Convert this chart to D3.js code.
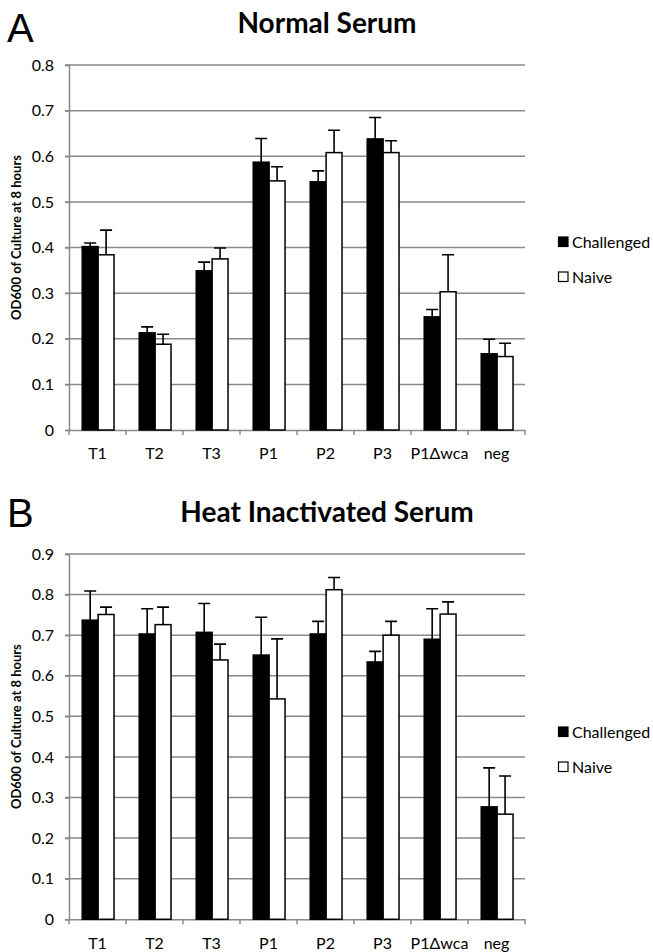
<!DOCTYPE html>
<html>
<head>
<meta charset="utf-8">
<script src="https://cdn.jsdelivr.net/npm/d3@7"></script>
<style>
  body { margin: 0; background: #fff; }
  svg { display: block; }
</style>
</head>
<body>
<div id="chart"></div>
<script>
// categories + series
const categories = ["T1", "T2", "T3", "P1", "P2", "P3", "P1\u0394wca", "neg"];
const seriesNames = ["Challenged", "Naive"];

// panel A - normal serum
const normalChallenged = [0.402, 0.213, 0.349, 0.587, 0.544, 0.638, 0.248, 0.167];
const normalChallengedErr = [0.008, 0.013, 0.019, 0.052, 0.024, 0.047, 0.016, 0.032];
const normalNaive = [0.384, 0.188, 0.375, 0.546, 0.608, 0.608, 0.303, 0.161];
const normalNaiveErr = [0.054, 0.022, 0.024, 0.031, 0.049, 0.026, 0.081, 0.029];
const normalTicks = [0, 0.1, 0.2, 0.3, 0.4, 0.5, 0.6, 0.7, 0.8];

// panel B - heat inactivated serum
const heatChallenged = [0.737, 0.703, 0.707, 0.651, 0.703, 0.634, 0.690, 0.277];
const heatChallengedErr = [0.072, 0.062, 0.071, 0.093, 0.031, 0.026, 0.075, 0.096];
const heatNaive = [0.751, 0.726, 0.639, 0.543, 0.812, 0.700, 0.752, 0.259];
const heatNaiveErr = [0.018, 0.043, 0.039, 0.148, 0.030, 0.034, 0.030, 0.094];
const heatTicks = [0, 0.1, 0.2, 0.3, 0.4, 0.5, 0.6, 0.7, 0.8, 0.9];

const W = 653, H = 952;
const gridColor = "#8a8a8a";
const font = "Lato, 'Open Sans', sans-serif";

const svg = d3.select("#chart").append("svg")
    .attr("width", W)
    .attr("height", H);

function drawPanel(opts) {
    const left = 69, right = 525;
    const top = opts.top, bottom = opts.bottom;
    const g = svg.append("g");

    // panel letter
    g.append("text")
        .attr("x", 7).attr("y", opts.letterY)
        .style("font-family", "'Liberation Sans', Arial, sans-serif")
        .style("font-size", "40px")
        .text(opts.letter);

    // title
    g.append("text")
        .attr("x", 327).attr("y", opts.titleY)
        .attr("text-anchor", "middle")
        .style("font-family", font)
        .style("font-weight", "bold")
        .style("font-size", "28px")
        .text(opts.title);

    const x0 = d3.scaleBand().domain(categories).range([left, right]);
    const x1 = d3.scaleBand().domain(seriesNames)
        .range([x0.bandwidth() * 0.232, x0.bandwidth() * 0.79]);
    const y = d3.scaleLinear().domain([0, opts.yMax]).range([bottom, top]);

    // gridlines (with small tick on the left)
    g.append("g").selectAll("line")
        .data(opts.ticks.slice(1))
        .join("line")
        .attr("x1", left - 4).attr("x2", right)
        .attr("y1", d => y(d)).attr("y2", d => y(d))
        .attr("stroke", gridColor).attr("stroke-width", 1.5);

    // y axis
    const yAxis = g.append("g")
        .attr("transform", "translate(" + left + ",0)")
        .call(d3.axisLeft(y).tickValues(opts.ticks).tickSize(4).tickPadding(11)
            .tickFormat(d => d === 0 ? "0" : d3.format(".1f")(d)));
    yAxis.select(".domain").attr("stroke", gridColor).attr("stroke-width", 1.5);
    yAxis.selectAll(".tick line").attr("stroke", gridColor).attr("stroke-width", 1.5);
    yAxis.selectAll("text")
        .style("font-family", font).style("font-size", "16px").attr("fill", "#000");

    // x axis - ticks at category boundaries
    const xAxis = g.append("g")
        .attr("transform", "translate(0," + bottom + ")")
        .call(d3.axisBottom(x0).tickSize(0).tickPadding(18));
    xAxis.select(".domain").attr("stroke", gridColor).attr("stroke-width", 1.5);
    xAxis.selectAll("text")
        .style("font-family", font).style("font-size", "16px").attr("fill", "#000");
    xAxis.selectAll("line.bound")
        .data(categories.concat(["end"]))
        .join("line")
        .attr("class", "bound")
        .attr("x1", (d, i) => left + i * x0.step())
        .attr("x2", (d, i) => left + i * x0.step())
        .attr("y1", 0).attr("y2", 5)
        .attr("stroke", gridColor).attr("stroke-width", 1.5);

    // bars
    const rows = [];
    categories.forEach((c, i) => {
        rows.push({ cat: c, s: "Challenged", v: opts.challenged[i], e: opts.challengedErr[i] });
        rows.push({ cat: c, s: "Naive", v: opts.naive[i], e: opts.naiveErr[i] });
    });

    const bars = g.append("g");
    // error bars (upper only)
    bars.selectAll("path.err")
        .data(rows)
        .join("path")
        .attr("class", "err")
        .attr("d", d => {
            const cx = x0(d.cat) + x1(d.s) + x1.bandwidth() / 2;
            const yt = y(d.v + d.e);
            return "M" + cx + "," + y(d.v) + "V" + yt + "M" + (cx - 6) + "," + yt + "H" + (cx + 6);
        })
        .attr("fill", "none").attr("stroke", "#000").attr("stroke-width", 1.6);

    bars.selectAll("rect")
        .data(rows)
        .join("rect")
        .attr("x", d => x0(d.cat) + x1(d.s))
        .attr("y", d => y(d.v))
        .attr("width", x1.bandwidth())
        .attr("height", d => bottom - y(d.v))
        .attr("fill", d => d.s === "Challenged" ? "#000" : "#fff")
        .attr("stroke", "#000").attr("stroke-width", 1.5);

    // legend
    const lg = g.append("g");
    seriesNames.forEach((s, i) => {
        const cy = opts.legendY + i * 35;
        lg.append("rect")
            .attr("x", 558.5).attr("y", cy - 5)
            .attr("width", 9.5).attr("height", 9.5)
            .attr("fill", s === "Challenged" ? "#000" : "#fff")
            .attr("stroke", "#000").attr("stroke-width", 1.2);
        lg.append("text")
            .attr("x", 572).attr("y", cy)
            .attr("dy", "0.36em")
            .style("font-family", font).style("font-size", "16px")
            .text(s);
    });

    // y axis title
    g.append("text")
        .attr("transform", "translate(21," + ((top + bottom) / 2 - 10) + ") rotate(-90)")
        .attr("text-anchor", "middle")
        .style("font-family", font).style("font-weight", "bold").style("font-size", "13px")
        .text("OD600 of Culture at 8 hours");
}

drawPanel({
    letter: "A", letterY: 42, title: "Normal Serum", titleY: 33,
    top: 65, bottom: 430, yMax: 0.8, ticks: normalTicks,
    challenged: normalChallenged, challengedErr: normalChallengedErr,
    naive: normalNaive, naiveErr: normalNaiveErr,
    legendY: 242
});

drawPanel({
    letter: "B", letterY: 527, title: "Heat Inactivated Serum", titleY: 522,
    top: 554, bottom: 919.3, yMax: 0.9, ticks: heatTicks,
    challenged: heatChallenged, challengedErr: heatChallengedErr,
    naive: heatNaive, naiveErr: heatNaiveErr,
    legendY: 732
});
</script>
</body>
</html>
